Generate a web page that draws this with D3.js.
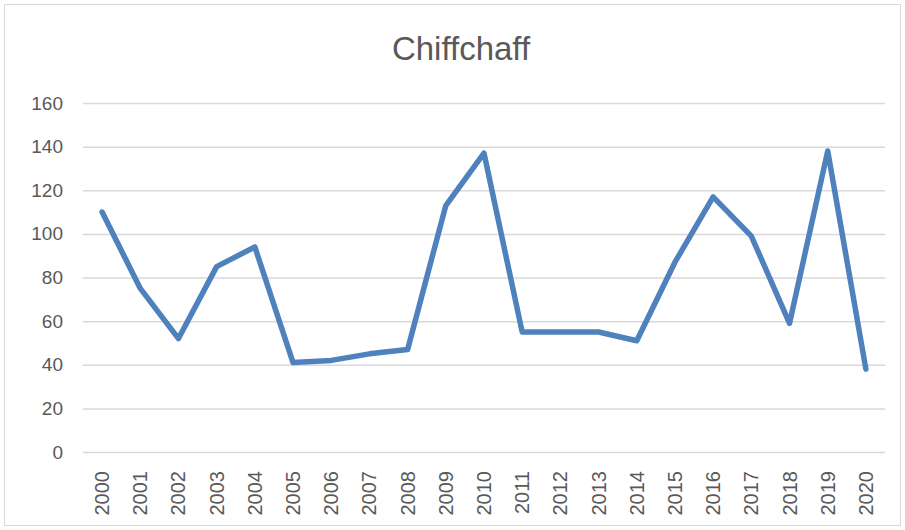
<!DOCTYPE html>
<html>
<head>
<meta charset="utf-8">
<script src="https://cdn.jsdelivr.net/npm/d3@7"></script>
<style>
  body { margin: 0; background: #fff; }
  text { font-family: "Liberation Sans", Arial, sans-serif; fill: #595959; }
</style>
</head>
<body>
<div id="chart-area"></div>
<script>
// data
var years = ["2000", "2001", "2002", "2003", "2004", "2005", "2006", "2007", "2008", "2009", "2010",
    "2011", "2012", "2013", "2014", "2015", "2016", "2017", "2018", "2019", "2020"];
var counts = [110, 75, 52, 85, 94, 41, 42, 45, 47, 113, 137, 55, 55, 55, 51, 87, 117, 99, 59, 138, 38];
var yTicks = [0, 20, 40, 60, 80, 100, 120, 140, 160];

var W = 905, H = 530;
var margin = { left: 83, right: 20, top: 103, bottom: 78 };
var width = W - margin.left - margin.right;
var height = H - margin.top - margin.bottom;

var svg = d3.select("#chart-area")
    .append("svg")
    .attr("width", W)
    .attr("height", H);

// chart border
svg.append("rect")
    .attr("x", 4.5)
    .attr("y", 4.5)
    .attr("width", W - 9)
    .attr("height", H - 9)
    .attr("fill", "none")
    .attr("stroke", "#d9d9d9")
    .attr("stroke-width", 1);

// title
svg.append("text")
    .attr("x", 461)
    .attr("y", 60)
    .attr("text-anchor", "middle")
    .attr("font-size", "33px")
    .text("Chiffchaff");

var g = svg.append("g")
    .attr("transform", "translate(" + margin.left + "," + margin.top + ")");

// X Scale
var x = d3.scaleBand()
    .domain(years)
    .range([0, width]);

// Y Scale
var y = d3.scaleLinear()
    .domain([0, 160])
    .range([height, 0]);

// gridlines
var yAxisCall = d3.axisLeft(y)
    .tickValues(yTicks)
    .tickSize(-width)
    .tickPadding(20);

var yAxisGroup = g.append("g")
    .attr("class", "y-axis")
    .call(yAxisCall);
yAxisGroup.select(".domain").remove();
yAxisGroup.selectAll("line")
    .attr("stroke", "#d9d9d9")
    .attr("stroke-width", 1.5);
yAxisGroup.selectAll("text")
    .attr("font-size", "19px")
    .attr("fill", "#595959")
    .attr("font-family", "Liberation Sans, Arial, sans-serif");

// X Axis
var xAxisCall = d3.axisBottom(x)
    .tickSize(0)
    .tickPadding(0);

var xAxisGroup = g.append("g")
    .attr("class", "x axis")
    .attr("transform", "translate(0, " + height + ")")
    .call(xAxisCall);
xAxisGroup.select(".domain").remove();
xAxisGroup.selectAll("text")
    .attr("font-size", "20px")
    .attr("fill", "#595959")
    .attr("font-family", "Liberation Sans, Arial, sans-serif")
    .attr("text-anchor", "end")
    .attr("dy", "0.35em")
    .attr("transform", "translate(0,19) rotate(-90)");

// line
var line = d3.line()
    .x(function(d, i) { return x(years[i]) + x.bandwidth() / 2; })
    .y(function(d) { return y(d); });

g.append("path")
    .datum(counts)
    .attr("fill", "none")
    .attr("stroke", "#4f81bd")
    .attr("stroke-width", 5.5)
    .attr("stroke-linejoin", "round")
    .attr("stroke-linecap", "round")
    .attr("d", line);
</script>
</body>
</html>
